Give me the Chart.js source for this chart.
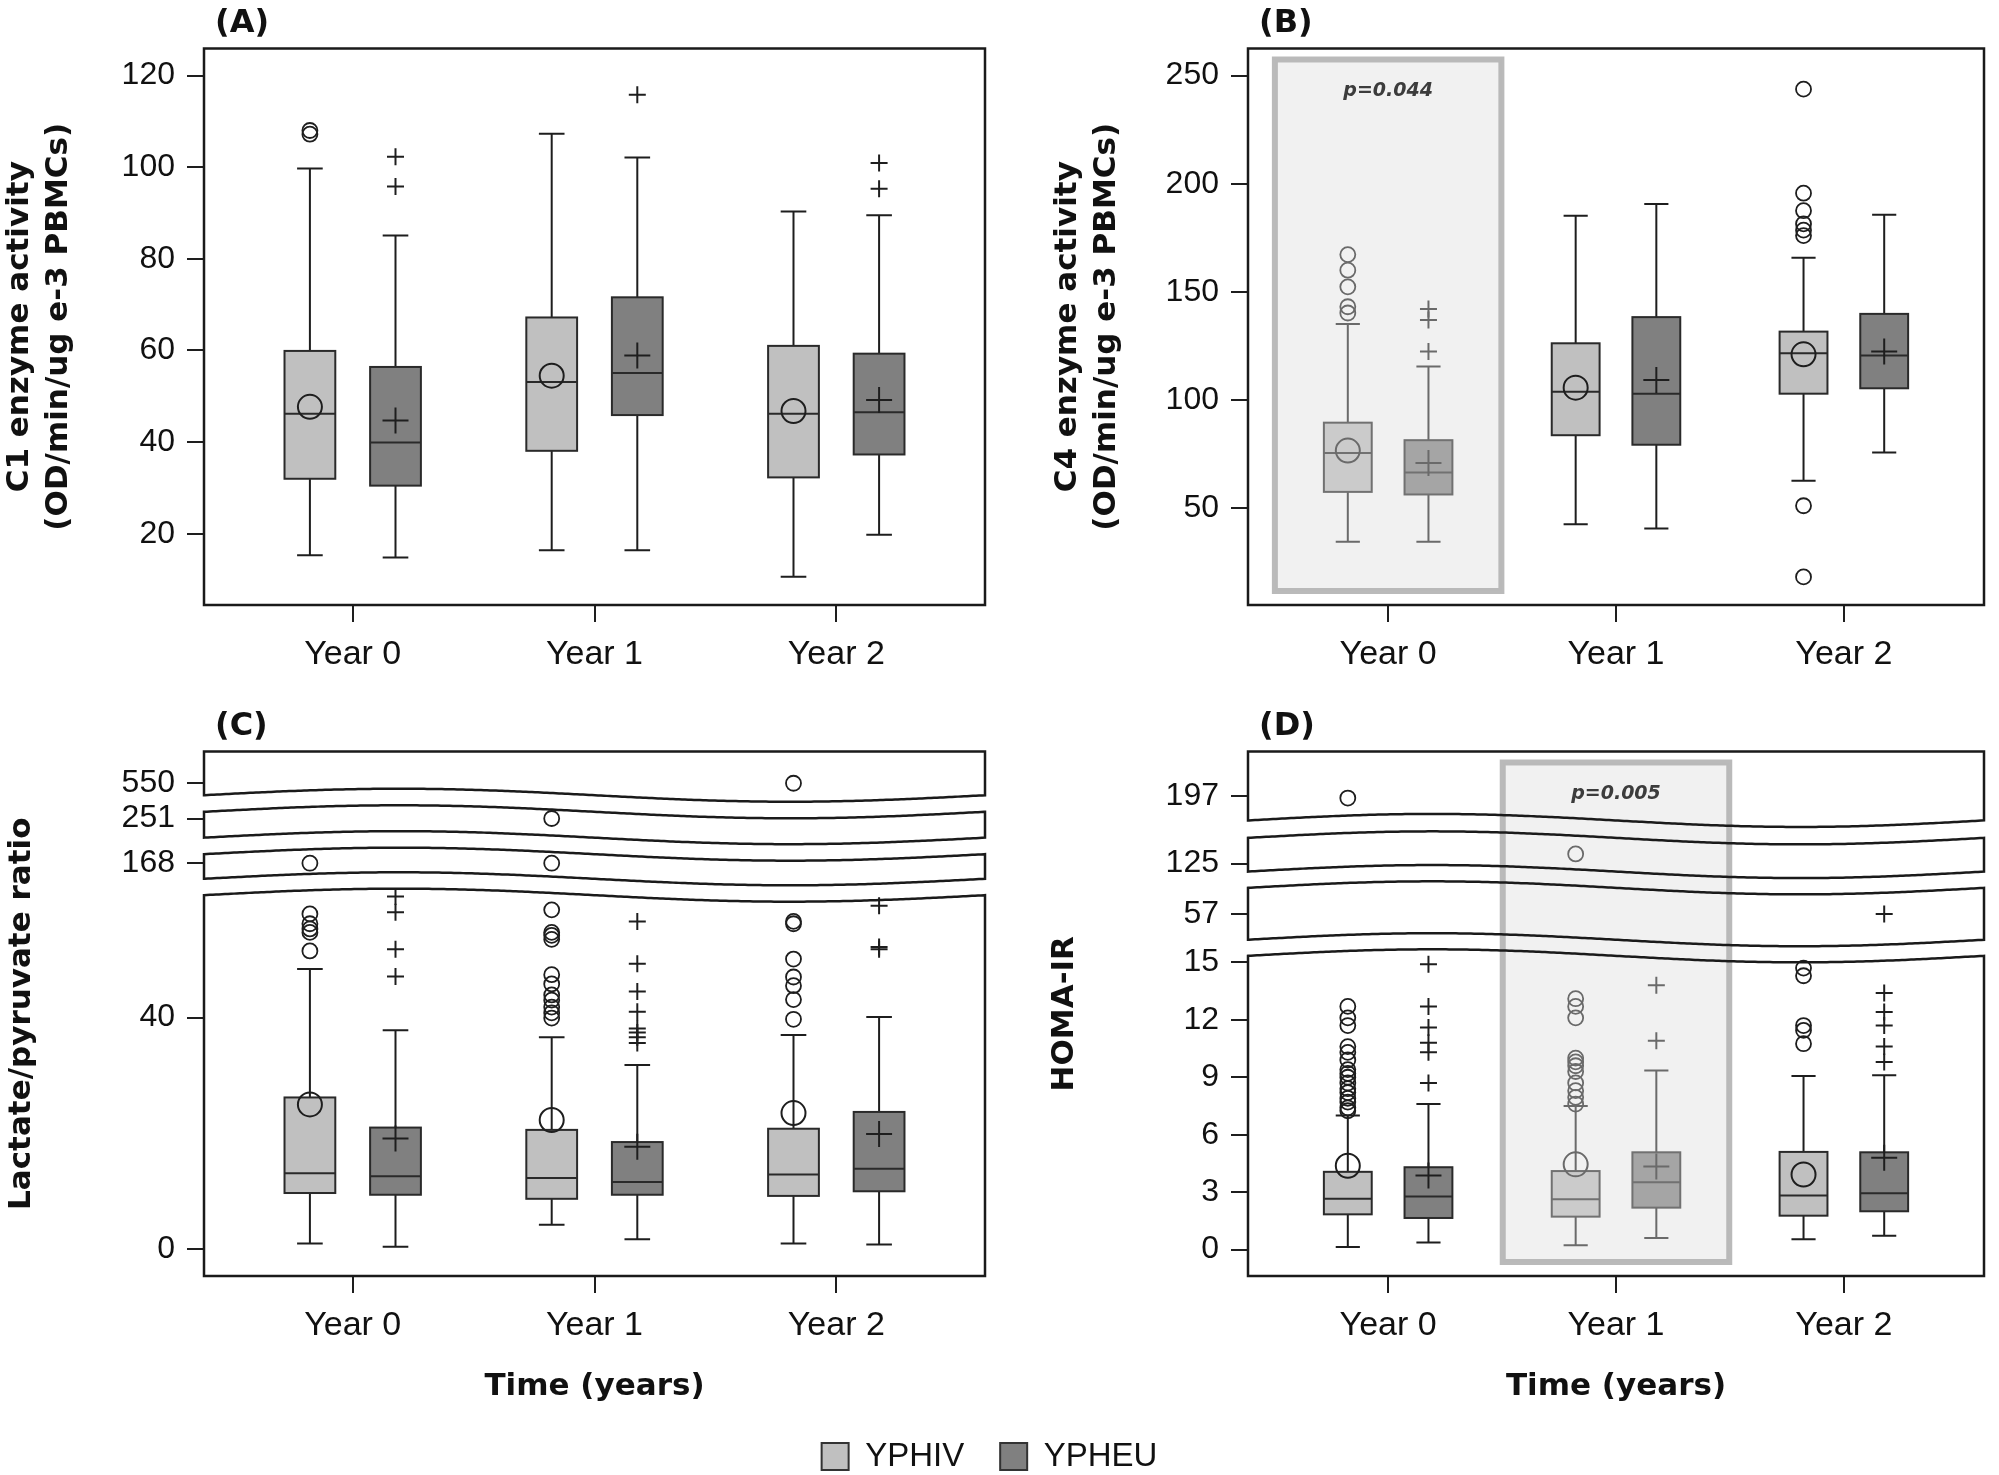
<!DOCTYPE html>
<html>
<head>
<meta charset="utf-8">
<script src="https://cdn.jsdelivr.net/npm/chart.js@4.4.1/dist/chart.umd.min.js"></script>
<style>
  html, body { margin: 0; padding: 0; background: #fff; overflow: hidden; width: 1999px; height: 1475px; }
  canvas { position: absolute; }
</style>
</head>
<body>
<canvas id="panelA" width="1000" height="700" style="left:0;top:0"></canvas>
<canvas id="panelB" width="999" height="700" style="left:1000px;top:0"></canvas>
<canvas id="panelC" width="1000" height="706" style="left:0;top:700px"></canvas>
<canvas id="panelD" width="999" height="706" style="left:1000px;top:700px"></canvas>
<canvas id="legend" width="1999" height="200" style="left:-10px;top:1404px"></canvas>
<script>
const years = ['Year 0', 'Year 1', 'Year 2'];
const groups = ['YPHIV', 'YPHEU'];

// every box: [low whisker, Q1, median, Q3, high whisker], one per year
// (A) C1 enzyme activity
const c1Hiv = [[15.3, 32.0, 46.2, 59.9, 99.7], [16.4, 38.1, 53.1, 67.2, 107.3], [10.6, 32.3, 46.2, 61.0, 90.3]];
const c1Heu = [[14.8, 30.5, 39.9, 56.4, 85.1], [16.4, 45.9, 55.1, 71.6, 102.1], [19.8, 37.3, 46.5, 59.3, 89.5]];
const c1HivMean = [47.7, 54.5, 46.8];
const c1HeuMean = [44.7, 58.9, 49.2];
const c1HivOut = [[107.2, 108.0], [], []];
const c1HeuOut = [[95.8, 102.3], [115.8], [95.3, 100.9]];
const c1Ticks = [20, 40, 60, 80, 100, 120];

// (B) C4 enzyme activity
const c4Hiv = [[34.5, 57.5, 75.5, 89.5, 135.1], [42.5, 83.7, 103.8, 126.2, 185.2], [62.6, 102.9, 121.6, 131.6, 165.7]];
const c4Heu = [[34.5, 56.3, 66.5, 81.4, 115.5], [40.6, 79.3, 102.9, 138.3, 190.6], [75.7, 105.4, 120.5, 139.8, 185.6]];
const c4HivMean = [76.6, 105.7, 121.1];
const c4HeuMean = [70.9, 109.2, 122.4];
const c4HivOut = [[140.2, 143.1, 152.3, 160.0, 167.2], [], [18.2, 51.1, 176.0, 178.5, 181.4, 187.5, 195.6, 243.7]];
const c4HeuOut = [[122.4, 137.0, 142.1], [], []];
const c4Ticks = [50, 100, 150, 200, 250];

// (C) Lactate/pyruvate ratio
const lpHiv = [[1.0, 9.7, 13.1, 26.2, 48.4], [4.2, 8.7, 12.3, 20.6, 36.6], [1.0, 9.2, 12.9, 20.8, 37.0]];
const lpHeu = [[0.4, 9.4, 12.6, 21.0, 37.8], [1.7, 9.4, 11.6, 18.5, 31.8], [0.8, 10.0, 13.9, 23.7, 40.1]];
const lpHivMean = [25.0, 22.3, 23.5];
const lpHeuMean = [19.1, 17.7, 19.9];
const lpHivOut = [[51.5, 54.7, 55.3, 56.2, 57.9, 168],
                  [39.9, 40.8, 41.8, 43.0, 43.9, 45.8, 47.4, 53.5, 54.2, 54.7, 58.6, 168, 251],
                  [39.7, 43.1, 45.5, 47.0, 50.1, 56.2, 56.6, 550]];
const lpHeuOut = [[47.1, 51.8, 58.2, 60.9], [35.6, 36.6, 37.4, 38.1, 41.0, 44.5, 49.3, 56.6], [51.8, 52.2, 59.3]];
const lpTicks = [0, 40, 168, 251, 550];

// (D) HOMA-IR
const homaHiv = [[0.14, 1.84, 2.66, 4.06, 7.0], [0.23, 1.72, 2.63, 4.1, 7.5], [0.54, 1.77, 2.82, 5.1, 9.07]];
const homaHeu = [[0.37, 1.65, 2.77, 4.3, 7.6], [0.6, 2.19, 3.52, 5.08, 9.35], [0.72, 2.0, 2.94, 5.08, 9.1]];
const homaHivMean = [4.38, 4.45, 3.92];
const homaHeuMean = [3.87, 4.34, 4.8];
const homaHivOut = [[7.25, 7.4, 7.7, 7.9, 8.2, 8.4, 8.7, 9.0, 9.2, 9.4, 9.9, 10.3, 10.6, 11.7, 12.1, 12.7, 196],
                    [7.6, 7.95, 8.3, 8.7, 9.3, 9.6, 9.8, 10.0, 12.1, 12.7, 13.1, 130],
                    [10.75, 11.45, 11.7, 14.3, 14.7]];
const homaHeuOut = [[8.7, 10.3, 10.8, 11.6, 12.7, 14.9], [10.9, 13.8], [9.8, 10.6, 11.7, 12.4, 13.4, 57]];
const homaTicks = [0, 3, 6, 9, 12, 15, 57, 125, 197];

// broken axes: values above `top` go to the band with the nearest `at`,
// drawn at display value `d`; `gaps` are the white strips between bands
const lpAxis = {top: 61, slope: 20,
  bands: [{at: 168, d: 66.65}, {at: 251, d: 74.37}, {at: 550, d: 80.46}],
  gaps: [[61.13, 63.96], [68.21, 71.06], [75.53, 78.39]]};
const homaAxis = {top: 15.3, slope: 10,
  bands: [{at: 57, d: 17.52}, {at: 125, d: 20.16}, {at: 197, d: 23.68}],
  gaps: [[15.34, 16.18], [18.89, 19.74], [21.50, 22.41]]};

const fills = ['#c0c0c0', '#808080'];
const offsets = [-0.177, 0.177];
const halfBox = 0.105, halfCap = 0.053;
const sansFont = '"Liberation Sans", Arial, sans-serif';
const boldFont = '"DejaVu Sans", Verdana, sans-serif';
const ink = '#1e1e1e';

function toDisplay(axis, v) {
  if (!axis || v <= axis.top) return v;
  const b = axis.bands.reduce((a, c) => Math.abs(c.at - v) < Math.abs(a.at - v) ? c : a);
  return b.d + (v - b.at) / axis.slope;
}

function boxPlugin(p, map, boxes) {
  return {
    id: 'boxes' + p.letter.replace(/\W/g, ''),
    beforeDatasetsDraw(chart) {
      const {ctx, scales: {x, y}} = chart;
      ctx.save();
      ctx.lineWidth = 2;
      boxes.forEach((g, k) => {
        g.stats.forEach((s, i) => {
          const c = i + offsets[k];
          const px = x.getPixelForValue(c);
          const xl = x.getPixelForValue(c - halfBox), xr = x.getPixelForValue(c + halfBox);
          const cl = x.getPixelForValue(c - halfCap), cr = x.getPixelForValue(c + halfCap);
          const [lo, q1, md, q3, hi] = s.map(v => y.getPixelForValue(map(v)));
          ctx.strokeStyle = ink;
          ctx.beginPath();
          ctx.moveTo(px, q3); ctx.lineTo(px, hi);
          ctx.moveTo(cl, hi); ctx.lineTo(cr, hi);
          ctx.moveTo(px, q1); ctx.lineTo(px, lo);
          ctx.moveTo(cl, lo); ctx.lineTo(cr, lo);
          ctx.stroke();
          ctx.fillStyle = g.fill;
          ctx.fillRect(xl, q3, xr - xl, q1 - q3);
          ctx.strokeStyle = '#2a2a2a';
          ctx.strokeRect(xl, q3, xr - xl, q1 - q3);
          ctx.beginPath();
          ctx.moveTo(xl, md); ctx.lineTo(xr, md);
          ctx.stroke();
        });
      });
      ctx.restore();
    },
    afterDatasetsDraw(chart) {
      const {ctx, chartArea: {left, right, top, bottom}, scales: {x, y}} = chart;
      ctx.save();
      // shaded significance box, laid over the boxes
      if (p.pbox) {
        const xl = x.getPixelForValue(p.pbox.cat - 0.497), xr = x.getPixelForValue(p.pbox.cat + 0.497);
        const yt = top + 11, yb = bottom - 14;
        ctx.fillStyle = 'rgba(220,220,220,0.4)';
        ctx.fillRect(xl, yt, xr - xl, yb - yt);
        ctx.strokeStyle = 'rgba(182,182,182,0.95)';
        ctx.lineWidth = 6;
        ctx.strokeRect(xl, yt, xr - xl, yb - yt);
        ctx.fillStyle = '#3c3c3c';
        ctx.font = 'italic bold 19px ' + boldFont;
        ctx.textAlign = 'center';
        ctx.textBaseline = 'middle';
        ctx.fillText(p.pbox.text, (xl + xr) / 2, top + 43);
      }
      // frame, split into bands with wavy edges on broken axes
      const edges = [y.min].concat(...(p.axis ? p.axis.gaps : [])).concat([y.max]);
      const wave = xx => 6.5 * Math.sin(2 * Math.PI * (xx - left) / (right - left));
      ctx.strokeStyle = '#1a1a1a';
      ctx.lineWidth = 2.5;
      for (let s = 0; s < edges.length; s += 2) {
        const lo = edges[s], hi = edges[s + 1];
        const yt = xx => hi >= y.max ? top : y.getPixelForValue(hi) - wave(xx);
        const yb = xx => lo <= y.min ? bottom : y.getPixelForValue(lo) - wave(xx);
        ctx.beginPath();
        ctx.moveTo(left, yt(left));
        for (let xx = left; xx < right; xx += 3) ctx.lineTo(xx, yt(xx));
        ctx.lineTo(right, yt(right));
        ctx.lineTo(right, yb(right));
        for (let xx = right; xx > left; xx -= 3) ctx.lineTo(xx, yb(xx));
        ctx.lineTo(left, yb(left));
        ctx.closePath();
        ctx.stroke();
      }
      // panel letter
      ctx.fillStyle = '#111';
      ctx.font = 'bold 32px ' + boldFont;
      ctx.textAlign = 'left';
      ctx.textBaseline = 'middle';
      ctx.fillText(p.letter, left + 11, top - 25);
      ctx.restore();
    }
  };
}

function panel(id, p) {
  const map = v => toDisplay(p.axis, v);
  const boxes = [
    {stats: p.hiv, mean: p.hivMean, out: p.hivOut, style: 'circle', fill: fills[0]},
    {stats: p.heu, mean: p.heuMean, out: p.heuOut, style: 'cross', fill: fills[1]}
  ];
  const datasets = [];
  boxes.forEach((g, k) => {
    datasets.push({
      label: groups[k] + ' outliers',
      data: g.out.flatMap((vals, i) => vals.map(v => ({x: i + offsets[k], y: map(v)}))),
      pointStyle: g.style, pointRadius: k ? 8.5 : 7.5, borderWidth: k ? 2 : 1.8,
      borderColor: ink, backgroundColor: 'rgba(0,0,0,0)'
    });
    datasets.push({
      label: groups[k] + ' mean',
      data: g.mean.map((v, i) => ({x: i + offsets[k], y: map(v)})),
      pointStyle: g.style, pointRadius: k ? 13 : 12, borderWidth: 2,
      borderColor: ink, backgroundColor: 'rgba(0,0,0,0)'
    });
  });

  return new Chart(document.getElementById(id), {
    type: 'scatter',
    data: {datasets},
    options: {
      responsive: false,
      animation: false,
      devicePixelRatio: 1,
      events: [],
      layout: {padding: {top: p.padTop, right: p.padRight, left: 0, bottom: 0}},
      plugins: {legend: {display: false}, tooltip: {enabled: false}},
      scales: {
        x: {
          type: 'linear', min: -0.615, max: 2.615,
          afterBuildTicks: s => { s.ticks = years.map((_, i) => ({value: i})); },
          afterFit: s => { s.height = p.xHeight; },
          ticks: {callback: (v, i) => years[i], font: {family: sansFont, size: 34}, color: '#111',
                  padding: 12, maxRotation: 0, autoSkip: false},
          grid: {drawOnChartArea: false, tickLength: 17, color: ink, lineWidth: 2},
          border: {display: false},
          title: {display: !!p.xTitle, text: p.xTitle || '', color: '#111', padding: 0,
                  font: {family: boldFont, weight: 'bold', size: 31}}
        },
        y: {
          type: 'linear', min: p.min, max: p.max,
          afterBuildTicks: s => { s.ticks = p.ticks.map(v => ({value: map(v)})); },
          afterFit: s => { s.width = p.yWidth; },
          ticks: {callback: (v, i) => String(p.ticks[i]), font: {family: sansFont, size: 32}, color: '#111',
                  padding: 12, autoSkip: false},
          grid: {drawOnChartArea: false, tickLength: 17, color: ink, lineWidth: 2},
          border: {display: false},
          title: {display: true, text: p.title, color: '#111', padding: {top: p.titlePad, bottom: 0},
                  font: {family: boldFont, weight: 'bold', size: 31, lineHeight: 1.26}}
        }
      }
    },
    plugins: [boxPlugin(p, map, boxes)]
  });
}

panel('panelA', {
  letter: '(A)', hiv: c1Hiv, heu: c1Heu, hivMean: c1HivMean, heuMean: c1HeuMean,
  hivOut: c1HivOut, heuOut: c1HeuOut, ticks: c1Ticks, min: 4.45, max: 125.9,
  title: ['C1 enzyme activity', '(OD/min/ug e-3 PBMCs)'], titlePad: 0,
  yWidth: 204, padTop: 48.5, padRight: 5, xHeight: 95
});

panel('panelB', {
  letter: '(B)', hiv: c4Hiv, heu: c4Heu, hivMean: c4HivMean, heuMean: c4HeuMean,
  hivOut: c4HivOut, heuOut: c4HeuOut, ticks: c4Ticks, min: 5.2, max: 262.5,
  title: ['C4 enzyme activity', '(OD/min/ug e-3 PBMCs)'], titlePad: 48.5,
  yWidth: 248, padTop: 48.5, padRight: 7, xHeight: 95,
  pbox: {cat: 0, text: 'p=0.044'}
});

panel('panelC', {
  letter: '(C)', hiv: lpHiv, heu: lpHeu, hivMean: lpHivMean, heuMean: lpHeuMean,
  hivOut: lpHivOut, heuOut: lpHeuOut, ticks: lpTicks, min: -4.63, max: 85.94, axis: lpAxis,
  title: 'Lactate/pyruvate ratio', titlePad: 2, xTitle: 'Time (years)',
  yWidth: 204, padTop: 51.5, padRight: 5, xHeight: 130
});

panel('panelD', {
  letter: '(D)', hiv: homaHiv, heu: homaHeu, hivMean: homaHivMean, heuMean: homaHeuMean,
  hivOut: homaHivOut, heuOut: homaHeuOut, ticks: homaTicks, min: -1.38, max: 26.01, axis: homaAxis,
  title: 'HOMA-IR', titlePad: 45.5, xTitle: 'Time (years)',
  yWidth: 248, padTop: 51.5, padRight: 7, xHeight: 130,
  pbox: {cat: 1, text: 'p=0.005'}
});

// shared legend
new Chart(document.getElementById('legend'), {
  type: 'bar',
  data: {
    labels: [],
    datasets: groups.map((g, k) => ({label: g, data: [], backgroundColor: fills[k], borderColor: '#333', borderWidth: 2}))
  },
  options: {
    responsive: false,
    animation: false,
    devicePixelRatio: 1,
    events: [],
    layout: {padding: 0},
    scales: {x: {display: false}, y: {display: false}},
    plugins: {
      tooltip: {enabled: false},
      legend: {
        display: true, position: 'top', maxHeight: 120,
        labels: {boxWidth: 27, boxHeight: 27, padding: 36, color: '#111', font: {family: sansFont, size: 33}}
      }
    }
  }
});
</script>
</body>
</html>
